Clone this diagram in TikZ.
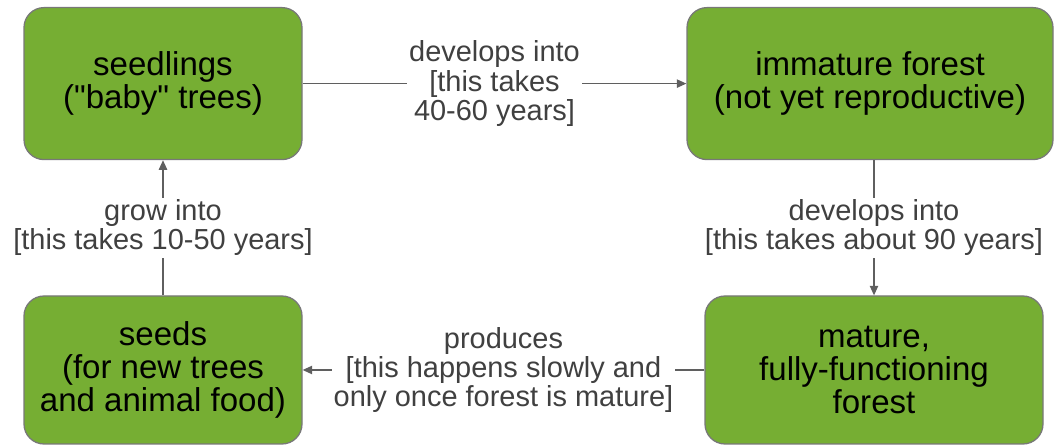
\documentclass[tikz,border=0pt]{standalone}
\usepackage{fontspec}
\setmainfont{Liberation Sans}[Ligatures=TeXOff]
\usepackage{tikz}
\usetikzlibrary{arrows.meta,positioning}
\definecolor{leafgreen}{RGB}{118,174,51}
\definecolor{rimgray}{RGB}{120,120,120}
\definecolor{linegray}{RGB}{95,95,95}
\definecolor{labgray}{RGB}{64,64,64}
\tikzset{
  stage/.style={draw=rimgray,line width=0.9pt,fill=leafgreen,rounded corners=5mm,
                minimum height=3.8cm,align=center,text=black,
                font=\fontsize{23.5}{23.5}\selectfont},
  flow/.style={linegray,line width=0.9pt,-{Triangle[length=2.4mm,width=2.1mm]}},
  lab/.style={fill=white,inner sep=1.5pt,align=center,text=labgray,
              font=\fontsize{20.6}{20.8}\selectfont},
}
\begin{document}
\begin{tikzpicture}[x=1cm,y=1cm]
  \path[use as bounding box] (0,0) rectangle (26.35,11.15);

  \node[stage,minimum width=6.95cm] (seedlings) at (4.075,9.06)
    {seedlings\\ ("baby" trees)};
  \node[stage,minimum width=9.15cm] (immature) at (21.75,9.06)
    {immature forest\\ (not yet reproductive)};
  \node[stage,minimum width=6.95cm,minimum height=3.7cm] (seeds) at (4.075,1.9)
    {seeds\\ (for new trees\\ and animal food)};
  \node[stage,minimum width=8.45cm,minimum height=3.7cm] (mature) at (21.85,1.9)
    {mature,\\ fully-functioning\\ forest};

  \draw[flow] (seedlings) -- node[lab] (l1) {develops into\\ {[this takes}\\ {40-60 years]}} (immature);
  \draw[flow] (mature.north |- immature.south) -- node[lab] (l2) {develops into\\ {[this takes about 90 years]}} (mature.north);
  \draw[flow] (mature.west |- seeds.east) -- node[lab] (l3) {produces\\ {[this happens slowly and}\\ {only once forest is mature]}} (seeds.east);
  \draw[flow] (seeds) -- node[lab] (l4) {grow into\\ {[this takes 10-50 years]}} (seedlings);
\end{tikzpicture}
\end{document}
